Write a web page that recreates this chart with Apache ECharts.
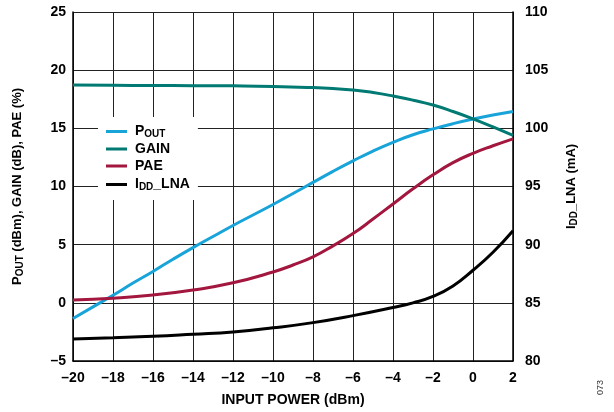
<!DOCTYPE html>
<html>
<head>
<meta charset="utf-8">
<script src="https://cdn.jsdelivr.net/npm/echarts@6/dist/echarts.min.js"></script>
<style>
html,body{margin:0;padding:0;background:#fff;}
#c{width:614px;height:412px;}
</style>
</head>
<body>
<div id="c"></div>
<script>
// Input power (dBm) sample points for each series
var poutX = [-20,-19,-18,-17,-16,-15,-14,-13,-12,-11,-10,-9,-8,-7,-6,-5,-4,-3,-2,-1,0,1,2];
var poutY = [-1.35,-0.35,0.65,1.7,2.7,3.75,4.75,5.7,6.65,7.55,8.45,9.4,10.35,11.3,12.2,13.05,13.8,14.45,14.95,15.4,15.8,16.15,16.45];

var gainX = [-20,-18,-16,-14,-12,-10,-8,-7,-6,-5,-4,-3,-2,-1,0,1,2];
var gainY = [18.72,18.7,18.68,18.67,18.65,18.6,18.5,18.42,18.3,18.08,17.78,17.42,17.0,16.45,15.82,15.12,14.4];

var paeX = [-20,-18,-16,-14,-12,-10,-9,-8,-7,-6,-5,-4,-3,-2,-1,0,1,2];
var paeY = [0.24,0.4,0.67,1.1,1.72,2.65,3.25,3.95,4.9,5.95,7.2,8.5,9.8,11.0,12.05,12.85,13.5,14.1];

var iddX = [-20,-18,-16,-14,-12,-10,-8,-6,-4,-3,-2,-1,0,1,2];
var iddY = [81.9,82.0,82.12,82.3,82.5,82.85,83.3,83.9,84.6,85.0,85.55,86.45,87.8,89.35,91.2];

var seriesNames = ['POUT','GAIN','PAE','IDD_LNA'];
var seriesColors = ['#18a4d9','#007a72','#a3173f','#000000'];

function pairs(xs, ys){ return xs.map(function(x,i){ return [x, ys[i]]; }); }

var chart = echarts.init(document.getElementById('c'), null, {renderer:'canvas'});
var FONT = 'Liberation Sans, Arial, sans-serif';

var legendRich = {
  b:{fontFamily:FONT,fontWeight:'bold',fontSize:14,color:'#000',lineHeight:15},
  s:{fontFamily:FONT,fontWeight:'bold',fontSize:10,color:'#000',lineHeight:15,verticalAlign:'bottom',padding:[6,0,0,0]}
};

function mkSeries(i, data, yIdx){
  return {
    name: seriesNames[i], type:'line', data:data, yAxisIndex:yIdx,
    smooth:true, showSymbol:false, symbol:'none',
    lineStyle:{color:seriesColors[i], width:3},
    itemStyle:{color:seriesColors[i]},
    z: 3
  };
}

var option = {
  animation:false,
  backgroundColor:'#fff',
  grid:{left:73, right:101, top:12, bottom:47, containLabel:false},
  legend:{
    orient:'vertical', left:98, top:117,
    padding:[6,8,8,8], backgroundColor:'#fff',
    itemWidth:21, itemHeight:3, itemGap:3, icon:'rect',
    data:seriesNames,
    textStyle:{rich:legendRich, padding:[0,0,0,3]},
    formatter:function(n){
      if(n==='POUT') return '{b|P}{s|OUT}';
      if(n==='IDD_LNA') return '{b|I}{s|DD}{b|_LNA}';
      return '{b|'+n+'}';
    },
    z: 10
  },
  xAxis:{
    type:'value', min:-20, max:2, interval:2,
    name:'INPUT POWER (dBm)', nameLocation:'middle', nameGap:32,
    nameTextStyle:{fontFamily:FONT,fontWeight:'bold',fontSize:14,color:'#000'},
    axisLine:{show:true,onZero:false,lineStyle:{color:'#000',width:1.5}},
    axisTick:{show:false},
    axisLabel:{fontFamily:FONT,fontWeight:'bold',fontSize:14,color:'#000',margin:10,
      formatter:function(v){ return String(v).replace('-','\u2013'); }},
    splitLine:{show:true,lineStyle:{color:'#222',width:1}}
  },
  yAxis:[{
    type:'value', min:-5, max:25, interval:5, position:'left',
    name:'{b|P}{s|OUT}{b| (dBm), GAIN (dB), PAE (%)}', nameLocation:'middle', nameGap:48, nameRotate:90,
    nameTextStyle:{rich:{
      b:{fontFamily:FONT,fontWeight:'bold',fontSize:13,color:'#000',lineHeight:16},
      s:{fontFamily:FONT,fontWeight:'bold',fontSize:10,color:'#000',lineHeight:16,verticalAlign:'bottom',padding:[6,0,0,0]}
    }},
    axisLine:{show:true,onZero:false,lineStyle:{color:'#000',width:1.5}},
    axisTick:{show:false},
    axisLabel:{fontFamily:FONT,fontWeight:'bold',fontSize:14,color:'#000',margin:7,
      formatter:function(v){ return String(v).replace('-','\u2013'); }},
    splitLine:{show:true,lineStyle:{color:'#222',width:1}}
  },{
    type:'value', min:80, max:110, interval:5, position:'right',
    name:'{b|I}{s|DD}{b|_LNA (mA)}', nameLocation:'middle', nameGap:50, nameRotate:90,
    nameTextStyle:{rich:{
      b:{fontFamily:FONT,fontWeight:'bold',fontSize:13,color:'#000',lineHeight:16},
      s:{fontFamily:FONT,fontWeight:'bold',fontSize:10,color:'#000',lineHeight:16,verticalAlign:'bottom',padding:[6,0,0,0]}
    }},
    axisLine:{show:true,onZero:false,lineStyle:{color:'#000',width:1.5}},
    axisTick:{show:false},
    axisLabel:{fontFamily:FONT,fontWeight:'bold',fontSize:14,color:'#000',margin:12},
    splitLine:{show:false}
  }],
  graphic:[{
    type:'text', left:596, top:380, rotation:Math.PI/2,
    style:{text:'073', fontFamily:FONT, fontSize:9, fill:'#333'}
  }],
  series:[
    mkSeries(0, pairs(poutX,poutY), 0),
    mkSeries(1, pairs(gainX,gainY), 0),
    mkSeries(2, pairs(paeX,paeY), 0),
    mkSeries(3, pairs(iddX,iddY), 1)
  ]
};
chart.setOption(option);
</script>
</body>
</html>
